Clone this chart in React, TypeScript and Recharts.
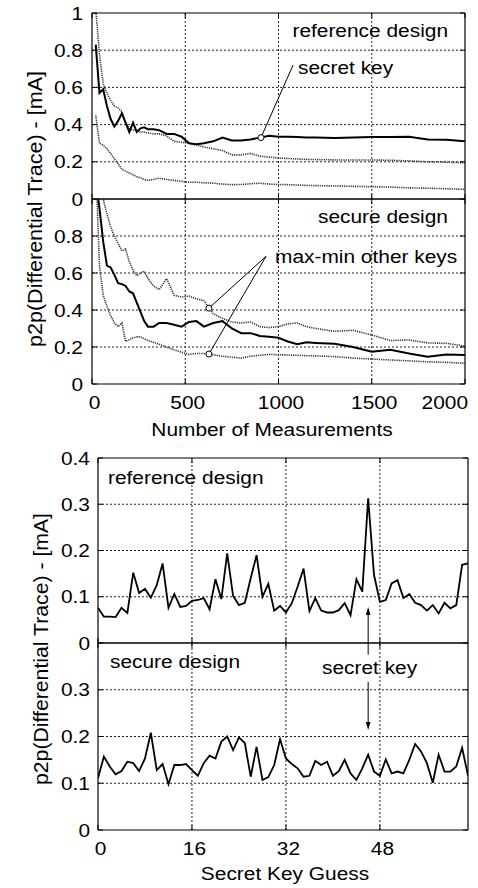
import React from 'react';
import { LineChart, Line, XAxis, YAxis, ReferenceLine, ReferenceDot } from 'recharts';

// upper figure: p2p of the differential trace vs. number of measurements
const measurements = [
    20, 40, 60, 80, 100, 120, 140, 160, 180, 200, 220, 240, 260, 280, 300, 330, 360, 400, 440, 480, 520, 560, 600,
    650, 700, 750, 800, 850, 900, 950, 1000, 1050, 1100, 1150, 1200, 1300, 1400, 1500, 1600, 1700, 1800, 1900, 2000,
];
const refSecretKey = [
    0.83, 0.57, 0.59, 0.5, 0.43, 0.39, 0.42, 0.46, 0.41, 0.36, 0.41, 0.36, 0.38, 0.385, 0.375, 0.375, 0.37, 0.35, 0.35,
    0.335, 0.3, 0.295, 0.3, 0.31, 0.33, 0.315, 0.315, 0.32, 0.33, 0.34, 0.335, 0.335, 0.333, 0.33, 0.33, 0.328, 0.33,
    0.333, 0.334, 0.335, 0.32, 0.318, 0.31,
];
const refMaxOther = [
    1.02, 0.78, 0.62, 0.57, 0.53, 0.5, 0.49, 0.47, 0.41, 0.38, 0.37, 0.37, 0.36, 0.36, 0.355, 0.35, 0.35, 0.34, 0.31,
    0.305, 0.3, 0.29, 0.28, 0.27, 0.26, 0.237, 0.237, 0.245, 0.23, 0.225, 0.22, 0.218, 0.215, 0.213, 0.212, 0.21, 0.21,
    0.21, 0.208, 0.205, 0.2, 0.198, 0.195,
];
const refMinOther = [
    0.45, 0.3, 0.29, 0.27, 0.245, 0.215, 0.19, 0.16, 0.15, 0.14, 0.13, 0.12, 0.115, 0.105, 0.1, 0.105, 0.112, 0.105,
    0.1, 0.095, 0.09, 0.09, 0.087, 0.085, 0.08, 0.077, 0.078, 0.082, 0.085, 0.08, 0.078, 0.077, 0.075, 0.073, 0.072,
    0.07, 0.068, 0.066, 0.064, 0.06, 0.058, 0.055, 0.052,
];
const secSecretKey = [
    1.1, 0.95, 0.77, 0.64, 0.63, 0.59, 0.545, 0.54, 0.53, 0.5, 0.49, 0.44, 0.39, 0.34, 0.31, 0.31, 0.33, 0.33, 0.32,
    0.31, 0.335, 0.34, 0.31, 0.33, 0.34, 0.3, 0.275, 0.275, 0.26, 0.255, 0.25, 0.23, 0.215, 0.225, 0.222, 0.218, 0.2,
    0.175, 0.185, 0.165, 0.148, 0.16, 0.157,
];
const secMaxOther = [
    1.3, 1.15, 1.0, 0.92, 0.85, 0.8, 0.76, 0.72, 0.73, 0.66, 0.615, 0.585, 0.6, 0.61, 0.57, 0.53, 0.51, 0.57, 0.48,
    0.47, 0.475, 0.46, 0.45, 0.38, 0.355, 0.335, 0.33, 0.335, 0.31, 0.305, 0.31, 0.325, 0.33, 0.31, 0.3, 0.285, 0.29,
    0.265, 0.235, 0.238, 0.222, 0.22, 0.205,
];
const secMinOther = [
    1.2, 0.64, 0.48, 0.42, 0.37, 0.33, 0.31, 0.33, 0.23, 0.24, 0.25, 0.255, 0.255, 0.245, 0.235, 0.225, 0.215, 0.2,
    0.185, 0.172, 0.16, 0.165, 0.165, 0.158, 0.15, 0.145, 0.14, 0.15, 0.155, 0.16, 0.158, 0.157, 0.155, 0.153, 0.152,
    0.148, 0.14, 0.135, 0.13, 0.125, 0.12, 0.117, 0.112,
];

// lower figure: p2p per key guess (0..63)
const refGuess = [
    0.076, 0.057, 0.057, 0.056, 0.076, 0.065, 0.152, 0.108, 0.117, 0.098, 0.125, 0.172, 0.076, 0.106, 0.078, 0.08,
    0.091, 0.093, 0.097, 0.073, 0.138, 0.095, 0.194, 0.102, 0.082, 0.087, 0.14, 0.19, 0.1, 0.128, 0.07, 0.08, 0.066,
    0.086, 0.122, 0.161, 0.069, 0.097, 0.07, 0.066, 0.066, 0.071, 0.086, 0.06, 0.138, 0.111, 0.313, 0.147, 0.089,
    0.093, 0.129, 0.136, 0.097, 0.106, 0.087, 0.082, 0.07, 0.082, 0.064, 0.087, 0.075, 0.082, 0.169, 0.172,
];
const secGuess = [
    0.111, 0.157, 0.136, 0.119, 0.126, 0.146, 0.143, 0.126, 0.153, 0.208, 0.128, 0.141, 0.098, 0.139, 0.139, 0.141,
    0.128, 0.116, 0.143, 0.159, 0.153, 0.189, 0.2, 0.171, 0.198, 0.186, 0.114, 0.178, 0.107, 0.113, 0.139, 0.194,
    0.153, 0.141, 0.132, 0.114, 0.116, 0.148, 0.139, 0.146, 0.116, 0.126, 0.15, 0.121, 0.107, 0.132, 0.161, 0.125,
    0.116, 0.151, 0.121, 0.125, 0.121, 0.15, 0.184, 0.168, 0.143, 0.101, 0.161, 0.125, 0.125, 0.136, 0.176, 0.116,
];

const measTicks = [0, 500, 1000, 1500, 2000];
const guessTicks = [0, 16, 32, 48];
const traceTicksUpper = [0, 0.2, 0.4, 0.6, 0.8, 1];
const traceTicksLower = [0, 0.2, 0.4, 0.6, 0.8];
const guessTicksUpper = [0, 0.1, 0.2, 0.3, 0.4];
const guessTicksLower = [0, 0.1, 0.2, 0.3];

const secretKeyGuess = 46;

const refTrace = measurements.map((m, i) => ({ m, key: refSecretKey[i], max: refMaxOther[i], min: refMinOther[i] }));
const secTrace = measurements.map((m, i) => ({ m, key: secSecretKey[i], max: secMaxOther[i], min: secMinOther[i] }));
const refGuessData = refGuess.map((v, k) => ({ k, v }));
const secGuessData = secGuess.map((v, k) => ({ k, v }));

const FONT = '"Liberation Sans", Arial, Helvetica, sans-serif';
const FS = 18.5;
const SX = 1.13;

const Txt = ({ x, y, anchor = 'start', children }: any) => (
    <text
        transform={`translate(${x},${y}) scale(${SX},1)`}
        textAnchor={anchor}
        fontFamily={FONT}
        fontSize={FS}
        fill='#000'
    >
        {children}
    </text>
);

const NoTick = () => <g />;

const Arrow = (p: any) => {
    const { x1, y1, x2, y2 } = p;
    const dir = Math.sign(y2 - y1);
    return (
        <g>
            <line x1={x1} y1={y1} x2={x2} y2={y2 - dir * 5} stroke='#000' strokeWidth={1} />
            <path d={`M${x2},${y2} L${x2 - 2.3},${y2 - dir * 8} L${x2 + 2.3},${y2 - dir * 8} Z`} fill='#000' />
        </g>
    );
};

// dashed grid line drawn through the reference line's own end points
const GridLine = (p: any) => (
    <line x1={p.x1} y1={p.y1} x2={p.x2} y2={p.y2} stroke='#222' strokeWidth={1} strokeDasharray='2 2' />
);

type PanelProps = {
    top: number;
    height: number;
    mt: number;
    mb: number;
    mr: number;
    leftWidth: number;
    bottomHeight: number;
    yMargin: number;
    data: any[];
    xKey: string;
    xDomain: [number, number];
    xTicks: number[];
    yDomain: [number, number];
    yTicks: number[];
    xLabels?: boolean;
    children?: React.ReactNode;
};

function Panel(props: PanelProps) {
    const { top, height, mt, mb, mr, leftWidth, bottomHeight, yMargin, data, xKey, xDomain, xTicks, yDomain, yTicks } =
        props;
    const axisLine = { stroke: '#000', strokeWidth: 1.2 };
    const tickLine = { stroke: '#000', strokeWidth: 1 };
    const xTick = props.xLabels
        ? (p: any) => {
              const isEnd = p.payload.value === xDomain[1];
              return (
                  <Txt x={isEnd ? p.x + 3 : p.x + 2.5} y={p.y + 13} anchor={isEnd ? 'end' : 'middle'}>
                      {p.payload.value}
                  </Txt>
              );
          }
        : NoTick;
    const yTick = (p: any) => (
        <Txt x={p.x} y={p.y + 6.6} anchor='end'>
            {String(p.payload.value)}
        </Txt>
    );
    const gridX = xTicks.filter((v) => v > xDomain[0] && v < xDomain[1]);
    const gridY = yTicks.filter((v) => v > yDomain[0] && v < yDomain[1]);
    return (
        <div style={{ position: 'absolute', left: 0, top, width: 478, height }}>
            <LineChart width={478} height={height} data={data} margin={{ top: mt, right: mr, bottom: mb, left: 0 }}>
                <XAxis
                    xAxisId='b'
                    dataKey={xKey}
                    type='number'
                    domain={xDomain}
                    ticks={xTicks}
                    interval={0}
                    allowDataOverflow
                    height={bottomHeight}
                    axisLine={axisLine}
                    tickLine={tickLine}
                    tickSize={-5}
                    tickMargin={17}
                    tick={xTick}
                />
                <XAxis
                    xAxisId='t'
                    orientation='top'
                    dataKey={xKey}
                    type='number'
                    domain={xDomain}
                    ticks={xTicks}
                    interval={0}
                    allowDataOverflow
                    height={1}
                    axisLine={axisLine}
                    tickLine={tickLine}
                    tickSize={-5}
                    tick={NoTick}
                />
                <YAxis
                    yAxisId='l'
                    type='number'
                    domain={yDomain}
                    ticks={yTicks}
                    interval={0}
                    allowDataOverflow
                    width={leftWidth}
                    axisLine={axisLine}
                    tickLine={tickLine}
                    tickSize={-5}
                    tickMargin={yMargin}
                    tick={yTick}
                />
                <YAxis
                    yAxisId='r'
                    orientation='right'
                    type='number'
                    domain={yDomain}
                    ticks={yTicks}
                    interval={0}
                    allowDataOverflow
                    width={1}
                    axisLine={axisLine}
                    tickLine={tickLine}
                    tickSize={-5}
                    tick={NoTick}
                />
                {gridX.map((v) => (
                    <ReferenceLine
                        key={`gx-${v}`}
                        xAxisId='b'
                        yAxisId='l'
                        segment={[{ x: v, y: yDomain[0] }, { x: v, y: yDomain[1] }]}
                        shape={GridLine}
                    />
                ))}
                {gridY.map((v) => (
                    <ReferenceLine
                        key={`gy-${v}`}
                        xAxisId='b'
                        yAxisId='l'
                        segment={[{ x: xDomain[0], y: v }, { x: xDomain[1], y: v }]}
                        shape={GridLine}
                    />
                ))}
                {props.children}
            </LineChart>
        </div>
    );
}

const dotted = { stroke: '#333', strokeWidth: 1.6, strokeDasharray: '1.2 1' };

export default function App() {
    return (
        <div style={{ position: 'absolute', left: 0, top: 0, width: 478, height: 888, background: '#fff' }}>
            <Panel
                top={0}
                height={216}
                mt={12}
                mb={16}
                mr={12}
                leftWidth={92}
                bottomHeight={1}
                yMargin={14}
                data={refTrace}
                xKey='m'
                xDomain={[0, 2000]}
                xTicks={measTicks}
                yDomain={[0, 1]}
                yTicks={traceTicksUpper}
            >
                <Line xAxisId='b' yAxisId='l' dataKey='max' {...dotted} dot={false} isAnimationActive={false} />
                <Line xAxisId='b' yAxisId='l' dataKey='min' {...dotted} dot={false} isAnimationActive={false} />
                <Line xAxisId='b' yAxisId='l' dataKey='key' stroke='#000' strokeWidth={2} dot={false} isAnimationActive={false} />
                <ReferenceLine xAxisId='b' yAxisId='l' segment={[{ x: 906, y: 0.33 }, { x: 1078, y: 0.72 }]} stroke='#000' strokeWidth={1} />
                <ReferenceDot xAxisId='b' yAxisId='l' x={906} y={0.33} r={3} fill='#fff' stroke='#000' strokeWidth={1} />
            </Panel>
            <Panel
                top={190}
                height={254}
                mt={8}
                mb={0}
                mr={12}
                leftWidth={92}
                bottomHeight={60}
                yMargin={14}
                data={secTrace}
                xKey='m'
                xDomain={[0, 2000]}
                xTicks={measTicks}
                yDomain={[0, 1]}
                yTicks={traceTicksLower}
                xLabels
            >
                <Line xAxisId='b' yAxisId='l' dataKey='max' {...dotted} dot={false} isAnimationActive={false} />
                <Line xAxisId='b' yAxisId='l' dataKey='min' {...dotted} dot={false} isAnimationActive={false} />
                <Line xAxisId='b' yAxisId='l' dataKey='key' stroke='#000' strokeWidth={2} dot={false} isAnimationActive={false} />
                <ReferenceLine xAxisId='b' yAxisId='l' segment={[{ x: 627, y: 0.41 }, { x: 933, y: 0.69 }]} stroke='#000' strokeWidth={1} />
                <ReferenceLine xAxisId='b' yAxisId='l' segment={[{ x: 627, y: 0.162 }, { x: 933, y: 0.69 }]} stroke='#000' strokeWidth={1} />
                <ReferenceDot xAxisId='b' yAxisId='l' x={627} y={0.41} r={3} fill='#fff' stroke='#000' strokeWidth={1} />
                <ReferenceDot xAxisId='b' yAxisId='l' x={627} y={0.162} r={3} fill='#fff' stroke='#000' strokeWidth={1} />
            </Panel>
            <Panel
                top={440}
                height={220}
                mt={17}
                mb={16}
                mr={9}
                leftWidth={98}
                bottomHeight={1}
                yMargin={13}
                data={refGuessData}
                xKey='k'
                xDomain={[0, 63]}
                xTicks={guessTicks}
                yDomain={[0, 0.4]}
                yTicks={guessTicksUpper}
            >
                <Line xAxisId='b' yAxisId='l' dataKey='v' stroke='#000' strokeWidth={1.8} dot={false} isAnimationActive={false} />
                <ReferenceLine
                    xAxisId='b'
                    yAxisId='l'
                    segment={[{ x: secretKeyGuess, y: 0 }, { x: secretKeyGuess, y: 0.078 }]}
                    shape={Arrow}
                />
            </Panel>
            <Panel
                top={630}
                height={258}
                mt={12}
                mb={0}
                mr={9}
                leftWidth={98}
                bottomHeight={58}
                yMargin={13}
                data={secGuessData}
                xKey='k'
                xDomain={[0, 63]}
                xTicks={guessTicks}
                yDomain={[0, 0.4]}
                yTicks={guessTicksLower}
                xLabels
            >
                <Line xAxisId='b' yAxisId='l' dataKey='v' stroke='#000' strokeWidth={1.8} dot={false} isAnimationActive={false} />
                <ReferenceLine
                    xAxisId='b'
                    yAxisId='l'
                    segment={[{ x: secretKeyGuess, y: 0.4 }, { x: secretKeyGuess, y: 0.375 }]}
                    stroke='#000'
                    strokeWidth={1}
                />
                <ReferenceLine
                    xAxisId='b'
                    yAxisId='l'
                    segment={[{ x: secretKeyGuess, y: 0.317 }, { x: secretKeyGuess, y: 0.214 }]}
                    shape={Arrow}
                />
            </Panel>
            <svg
                width={478}
                height={888}
                style={{ position: 'absolute', left: 0, top: 0, pointerEvents: 'none' }}
            >
                <text
                    transform='translate(42,209) rotate(-90)'
                    textAnchor='middle'
                    fontFamily={FONT}
                    fontSize={20}
                    textLength={276}
                    lengthAdjust='spacingAndGlyphs'
                >
                    p2p(Differential Trace) - [mA]
                </text>
                <text
                    transform='translate(48,649) rotate(-90)'
                    textAnchor='middle'
                    fontFamily={FONT}
                    fontSize={20}
                    textLength={272}
                    lengthAdjust='spacingAndGlyphs'
                >
                    p2p(Differential Trace) - [mA]
                </text>
                <Txt x={448} y={37} anchor='end'>reference design</Txt>
                <Txt x={298} y={74}>secret key</Txt>
                <Txt x={448} y={223} anchor='end'>secure design</Txt>
                <Txt x={275} y={263}>max-min other keys</Txt>
                <Txt x={272} y={436} anchor='middle'>Number of Measurements</Txt>
                <Txt x={108} y={484}>reference design</Txt>
                <Txt x={110} y={668}>secure design</Txt>
                <Txt x={322} y={674}>secret key</Txt>
                <Txt x={285} y={880} anchor='middle'>Secret Key Guess</Txt>
            </svg>
        </div>
    );
}
